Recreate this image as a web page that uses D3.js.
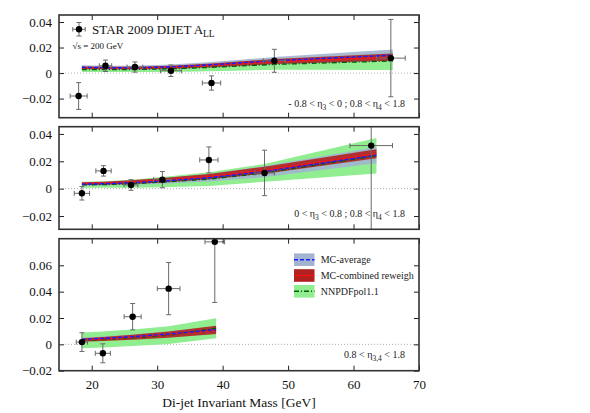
<!DOCTYPE html>
<html>
<head>
<meta charset="utf-8">
<script src="https://cdn.jsdelivr.net/npm/d3@7"></script>
<style>
  body { margin: 0; background: #fff; }
  text { font-family: "Liberation Serif", "DejaVu Serif", serif; }
</style>
</head>
<body>
<div id="chart"></div>
<script>
// ---------------- data ----------------
var xTicks = [20, 30, 40, 50, 60, 70];

// panel 1 : -0.8 < eta3 < 0 ; 0.8 < eta4 < 1.8
var mass1 = [18.0, 22.1, 26.6, 32.1, 38.3, 47.9, 65.7];
var dMass1 = [1.3, 0.95, 1.2, 1.6, 1.4, 1.7, 2.2];
var all1 = [-0.018, 0.0057, 0.0047, 0.0018, -0.0078, 0.0096, 0.0117];
var dAll1 = [0.0105, 0.0045, 0.004, 0.0045, 0.0056, 0.009, 0.0303];
var band1Mass = [18.5, 22.1, 26.6, 32.1, 38.3, 47.9, 66];
var avg1 = [0.0045, 0.0042, 0.0042, 0.0048, 0.0065, 0.0097, 0.014];
var avg1Err = [0.0016, 0.0016, 0.0016, 0.0019, 0.0022, 0.0028, 0.0045];
var rew1 = [0.0042, 0.004, 0.004, 0.0045, 0.006, 0.009, 0.0125];
var rew1Err = [0.001, 0.001, 0.001, 0.0012, 0.0015, 0.002, 0.0029];
var nn1 = [0.0028, 0.0027, 0.0028, 0.0033, 0.0045, 0.0068, 0.0095];
var nn1Err = [0.0019, 0.0019, 0.002, 0.0025, 0.003, 0.0042, 0.0072];

// panel 2 : 0 < eta3 < 0.8 ; 0.8 < eta4 < 1.8
var mass2 = [18.5, 21.8, 26.0, 30.8, 37.9, 46.4, 62.7];
var dMass2 = [1.17, 1.17, 1.05, 1.35, 1.4, 1.5, 3.25];
var all2 = [-0.0034, 0.013, 0.0027, 0.0066, 0.021, 0.0115, 0.0315];
var dAll2 = [0.0049, 0.0038, 0.0039, 0.0059, 0.0095, 0.0166, 0.065];
var band2Mass = [18.5, 21.8, 26.0, 30.8, 37.9, 46.4, 63.5];
var avg2 = [0.0033, 0.0036, 0.0043, 0.0056, 0.008, 0.0125, 0.0245];
var avg2Err = [0.0012, 0.0013, 0.0015, 0.002, 0.0028, 0.004, 0.006];
var rew2 = [0.0037, 0.004, 0.0048, 0.0062, 0.0088, 0.0135, 0.0256];
var rew2Err = [0.001, 0.0011, 0.0013, 0.0016, 0.002, 0.0026, 0.0033];
var nn2 = [0.0028, 0.003, 0.0036, 0.0048, 0.007, 0.0115, 0.024];
var nn2Err = [0.0022, 0.0024, 0.003, 0.0038, 0.005, 0.0065, 0.013];

// panel 3 : 0.8 < eta3,4 < 1.8
var mass3 = [18.5, 21.7, 26.25, 31.75, 38.8];
var dMass3 = [0.86, 1.15, 1.3, 1.73, 1.5];
var all3 = [0.0017, -0.0068, 0.021, 0.0423, 0.0778];
var dAll3 = [0.0071, 0.0072, 0.01, 0.0198, 0.046];
var band3Mass = [18.5, 21.7, 26.25, 31.75, 39];
var avg3 = [0.0038, 0.0045, 0.0058, 0.0078, 0.0112];
var avg3Err = [0.0013, 0.0014, 0.0016, 0.0019, 0.0024];
var rew3 = [0.0033, 0.004, 0.0054, 0.0074, 0.011];
var rew3Err = [0.0013, 0.0015, 0.0019, 0.0024, 0.0032];
var nn3 = [0.003, 0.0037, 0.005, 0.007, 0.0122];
var nn3Err = [0.006, 0.006, 0.0063, 0.0068, 0.0076];

var legendLabels = ["MC-average", "MC-combined reweigh", "NNPDFpol1.1"];

// ---------------- layout ----------------
var svgWidth = 590, svgHeight = 413;
var left = 59, right = 419;
var serif = "'Liberation Serif', 'Times New Roman', serif";

var panels = [
  {top: 15, bottom: 117.7, yDomain: [-0.035, 0.0455], yTicks: [-0.02, 0, 0.02, 0.04],
   mass: mass1, dMass: dMass1, all: all1, dAll: dAll1,
   bMass: band1Mass, avg: avg1, avgErr: avg1Err, rew: rew1, rewErr: rew1Err, nn: nn1, nnErr: nn1Err,
   label: [["- 0.8 < η", ""], ["3", "sub"], [" < 0 ; 0.8 < η", ""], ["4", "sub"], [" < 1.8", ""]], labelY: 110},
  {top: 126.7, bottom: 229.3, yDomain: [-0.0297, 0.0453], yTicks: [-0.02, 0, 0.02, 0.04],
   mass: mass2, dMass: dMass2, all: all2, dAll: dAll2,
   bMass: band2Mass, avg: avg2, avgErr: avg2Err, rew: rew2, rewErr: rew2Err, nn: nn2, nnErr: nn2Err,
   label: [["0 < η", ""], ["3", "sub"], [" < 0.8 ; 0.8 < η", ""], ["4", "sub"], [" < 1.8", ""]], labelY: 220},
  {top: 238.7, bottom: 370.7, yDomain: [-0.02, 0.0802], yTicks: [-0.02, 0, 0.02, 0.04, 0.06],
   mass: mass3, dMass: dMass3, all: all3, dAll: dAll3,
   bMass: band3Mass, avg: avg3, avgErr: avg3Err, rew: rew3, rewErr: rew3Err, nn: nn3, nnErr: nn3Err,
   label: [["0.8 < η", ""], ["3,4", "sub"], [" < 1.8", ""]], labelY: 361}
];

var colGreen = "#90ee90", colBlue = "#a2b4cf", colRed = "#b22020";

var svg = d3.select("#chart")
  .append("svg")
    .attr("width", svgWidth)
    .attr("height", svgHeight);

var x = d3.scaleLinear().domain([15, 70]).range([left, right]);

var yFormat = function(d) { return d === 0 ? "0" : d3.format(".2f")(d); };

panels.forEach(function(p, i) {
  var y = d3.scaleLinear().domain(p.yDomain).range([p.bottom, p.top]);
  var g = svg.append("g");

  g.append("clipPath").attr("id", "clip" + i)
    .append("rect")
      .attr("x", left).attr("y", p.top)
      .attr("width", right - left).attr("height", p.bottom - p.top);

  var plot = g.append("g").attr("clip-path", "url(#clip" + i + ")");

  // zero line
  plot.append("line")
    .attr("x1", left).attr("x2", right)
    .attr("y1", y(0)).attr("y2", y(0))
    .style("stroke", "#999").style("stroke-width", 0.8)
    .style("stroke-dasharray", "1,2");

  // bands
  var idx = d3.range(p.bMass.length);
  function band(c, e) {
    return d3.area()
      .x(function(k) { return x(p.bMass[k]); })
      .y0(function(k) { return y(c[k] - e[k]); })
      .y1(function(k) { return y(c[k] + e[k]); })(idx);
  }
  function centre(c) {
    return d3.line()
      .x(function(k) { return x(p.bMass[k]); })
      .y(function(k) { return y(c[k]); })(idx);
  }
  plot.append("path").attr("d", band(p.nn, p.nnErr)).style("fill", colGreen);
  plot.append("path").attr("d", band(p.avg, p.avgErr)).style("fill", colBlue).style("opacity", 0.9);
  plot.append("path").attr("d", band(p.rew, p.rewErr)).style("fill", colRed).style("opacity", 0.9);
  plot.append("path").attr("d", centre(p.nn)).style("fill", "none")
    .style("stroke", "#0a5a0a").style("stroke-width", 1.4).style("stroke-dasharray", "5,2,1,2");
  plot.append("path").attr("d", centre(p.rew)).style("fill", "none")
    .style("stroke", "#ff1010").style("stroke-width", 1);
  plot.append("path").attr("d", centre(p.avg)).style("fill", "none")
    .style("stroke", "#1a1aff").style("stroke-width", 1.4).style("stroke-dasharray", "4,2");

  // data points with error bars
  var pts = plot.selectAll(".pt").data(d3.range(p.mass.length)).enter().append("g");
  var cap = 2.5;
  pts.each(function(k) {
    var s = d3.select(this);
    var cx = x(p.mass[k]), cy = y(p.all[k]);
    var xl = x(p.mass[k] - p.dMass[k]), xr = x(p.mass[k] + p.dMass[k]);
    var yt = y(p.all[k] + p.dAll[k]), yb = y(p.all[k] - p.dAll[k]);
    var segs = [
      [xl, cy, xr, cy], [cx, yt, cx, yb],
      [xl, cy - cap, xl, cy + cap], [xr, cy - cap, xr, cy + cap],
      [cx - cap, yt, cx + cap, yt], [cx - cap, yb, cx + cap, yb]
    ];
    segs.forEach(function(sg) {
      s.append("line")
        .attr("x1", sg[0]).attr("y1", sg[1]).attr("x2", sg[2]).attr("y2", sg[3])
        .style("stroke", "#6a6a6a").style("stroke-width", 1);
    });
    s.append("circle").attr("cx", cx).attr("cy", cy).attr("r", 3.2).style("fill", "black");
  });

  // axes (inward ticks)
  var ax = g.append("g").attr("class", "axes");
  ax.append("g").attr("transform", "translate(" + left + ",0)")
    .call(d3.axisLeft(y).tickValues(p.yTicks).tickSize(-5).tickPadding(7).tickFormat(yFormat));
  ax.append("g").attr("transform", "translate(" + right + ",0)")
    .call(d3.axisRight(y).tickValues(p.yTicks).tickSize(-5).tickFormat(""));
  ax.append("g").attr("transform", "translate(0," + p.top + ")")
    .call(d3.axisTop(x).tickValues(xTicks).tickSize(-5).tickFormat(""));
  ax.append("g").attr("transform", "translate(0," + p.bottom + ")")
    .call(d3.axisBottom(x).tickValues(xTicks).tickSize(-5).tickPadding(9)
      .tickFormat(i === 2 ? d3.format("d") : ""));
  ax.selectAll(".domain").remove();
  ax.selectAll("g").attr("font-family", serif).attr("font-size", 13);
  ax.selectAll(".tick line").style("stroke", "#222").style("stroke-width", 1);
  ax.selectAll(".tick text").attr("font-family", serif).style("font-family", serif)
    .style("font-size", "13px").style("fill", "#111");

  // frame
  g.append("rect")
    .attr("x", left).attr("y", p.top)
    .attr("width", right - left).attr("height", p.bottom - p.top)
    .style("fill", "none").style("stroke", "#333").style("stroke-width", 1.6);

  // eta range label
  var t = g.append("text").attr("x", 405).attr("y", p.labelY)
    .attr("text-anchor", "end").style("font-size", "10px").style("fill", "#222");
  p.label.forEach(function(part) {
    if (part[1] === "sub") {
      t.append("tspan").attr("dy", 3).style("font-size", "7.5px").text(part[0]);
    } else {
      t.append("tspan").attr("dy", t.selectAll("tspan").size() ? -3 : 0).text(part[0]);
    }
  });
});

// ---------------- title and data legend in panel 1 ----------------
var mk = svg.append("g");
[[72.8, 29.3, 85.2, 29.3], [79, 22.5, 79, 36], [72.8, 27, 72.8, 31.6], [85.2, 27, 85.2, 31.6],
 [76.5, 22.5, 81.5, 22.5], [76.5, 36, 81.5, 36]].forEach(function(sg) {
  mk.append("line").attr("x1", sg[0]).attr("y1", sg[1]).attr("x2", sg[2]).attr("y2", sg[3])
    .style("stroke", "#6a6a6a").style("stroke-width", 1);
});
mk.append("circle").attr("cx", 79).attr("cy", 29.3).attr("r", 3.2).style("fill", "black");

var title = svg.append("text").attr("x", 92).attr("y", 34)
  .style("font-size", "13px").style("fill", "#111");
title.append("tspan").text("STAR 2009 DIJET A");
title.append("tspan").attr("dy", 3).style("font-size", "9.5px").text("LL");

svg.append("text").attr("x", 72.5).attr("y", 48.5)
  .style("font-size", "9px").style("fill", "#111")
  .text("√s = 200 GeV");

// ---------------- model legend in panel 3 ----------------
var legRows = [
  {fill: colBlue, stroke: "#1a1aff", dash: "4,2", w: 1.4},
  {fill: colRed, stroke: "#ff1010", dash: null, w: 1},
  {fill: colGreen, stroke: "#0a5a0a", dash: "5,2,1,2", w: 1.4}
];
legRows.forEach(function(r, k) {
  var cy = 259.7 + k * 15.8;
  svg.append("rect").attr("x", 294).attr("y", cy - 6.3).attr("width", 20.5).attr("height", 12.6)
    .style("fill", r.fill);
  svg.append("line").attr("x1", 294).attr("x2", 314.5).attr("y1", cy).attr("y2", cy)
    .style("stroke", r.stroke).style("stroke-width", r.w)
    .style("stroke-dasharray", r.dash);
  svg.append("text").attr("x", 320.7).attr("y", cy + 3.5)
    .style("font-size", "10px").style("fill", "#222")
    .text(legendLabels[k]);
});

// x axis title
svg.append("text")
  .attr("x", (left + right) / 2).attr("y", 407)
  .attr("text-anchor", "middle")
  .style("font-size", "13.5px").style("fill", "#111")
  .text("Di-jet Invariant Mass [GeV]");
</script>
</body>
</html>
